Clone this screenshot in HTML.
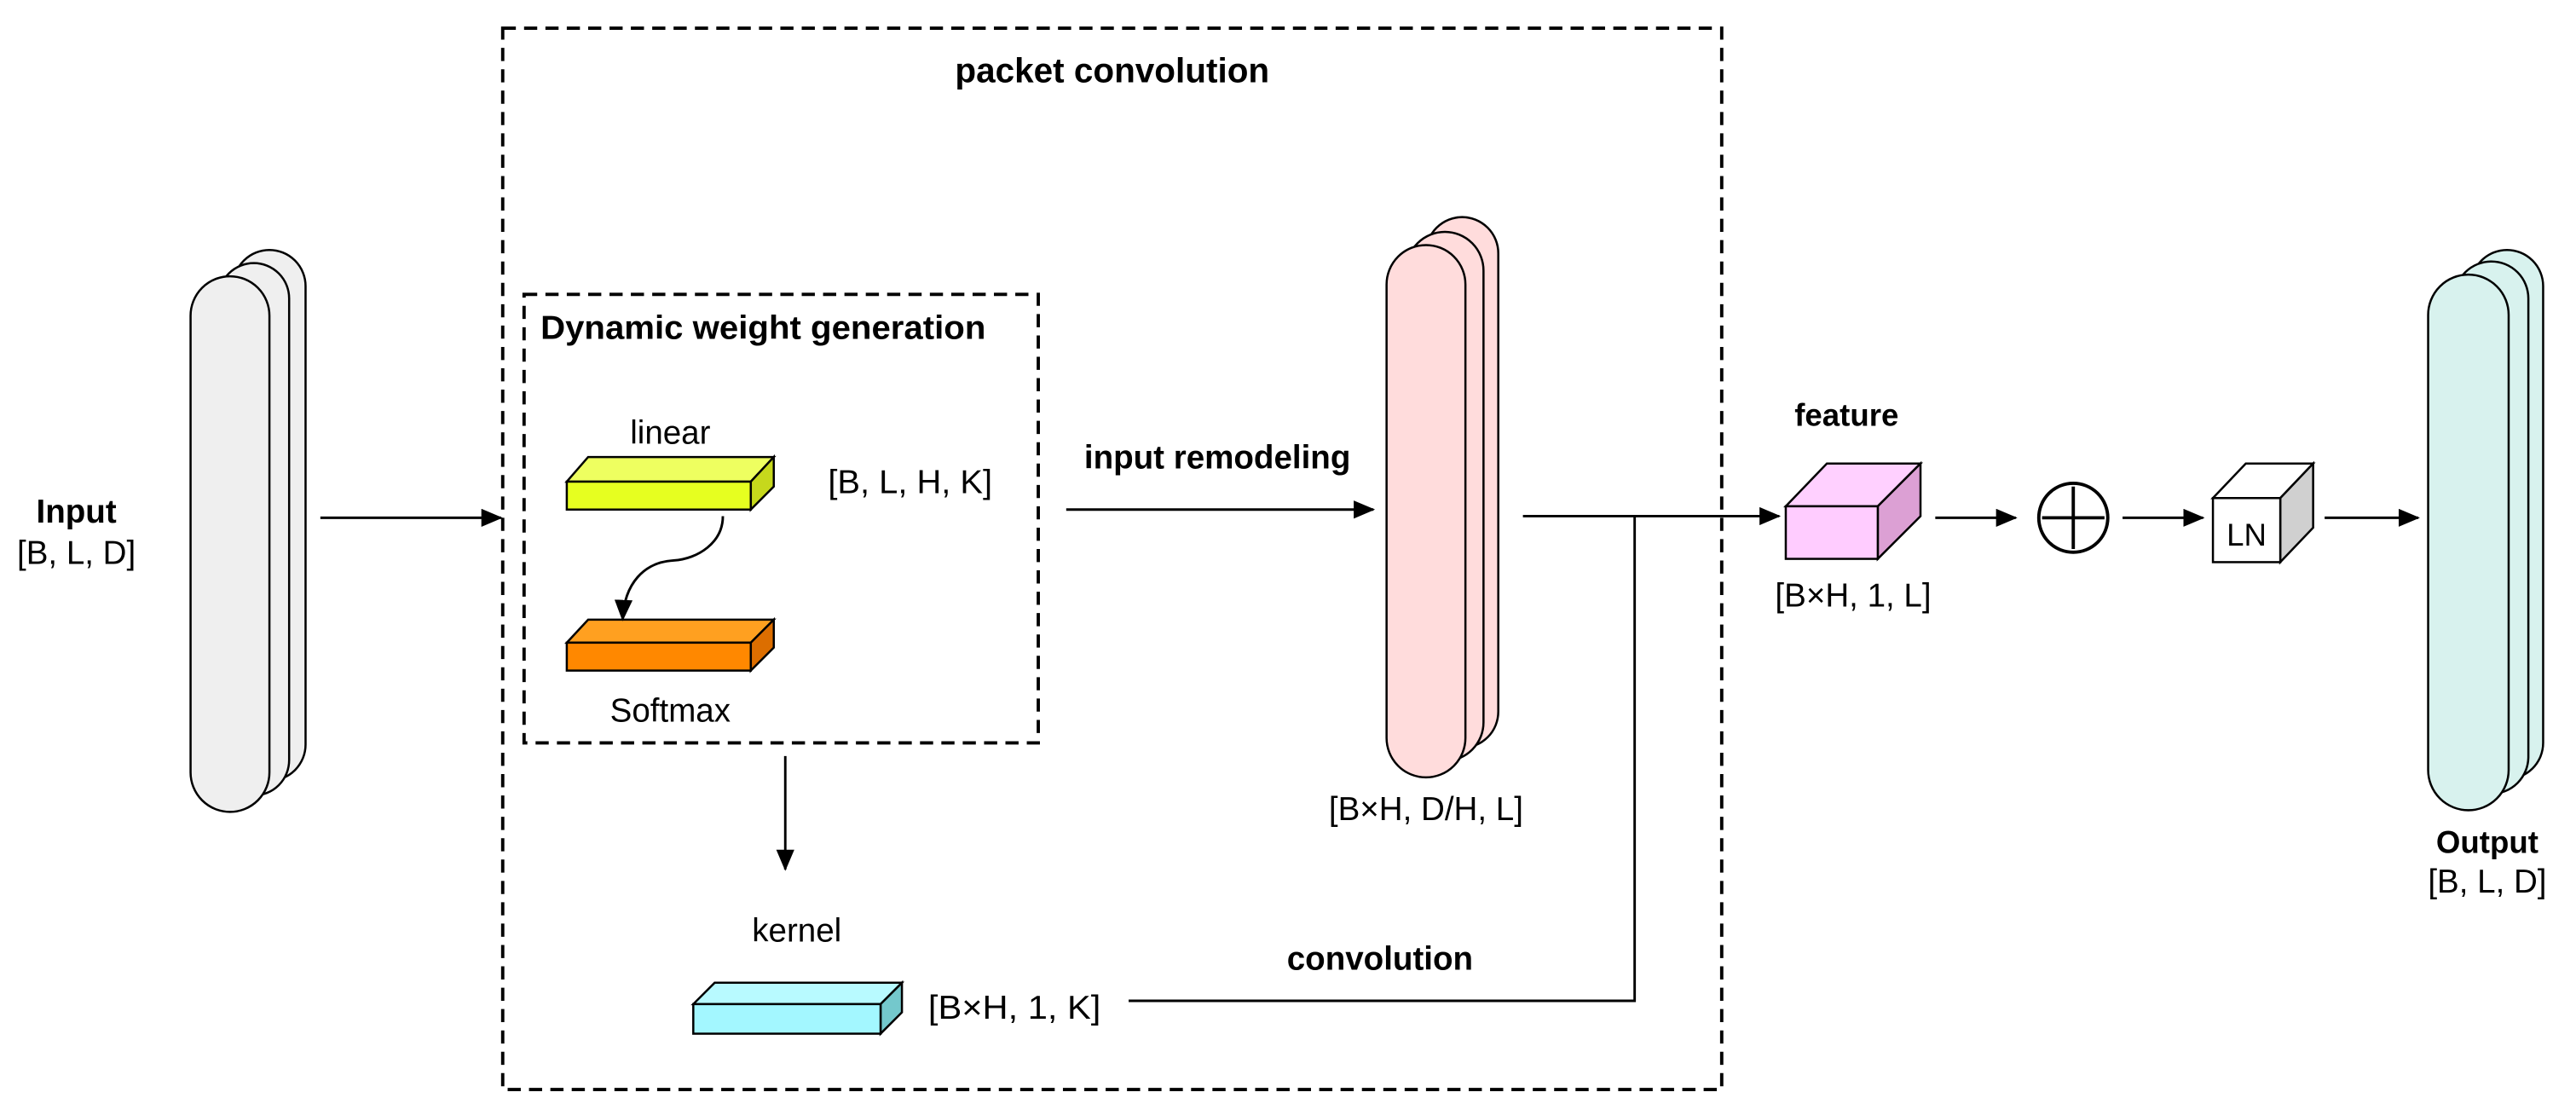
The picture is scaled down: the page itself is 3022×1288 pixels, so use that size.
<!DOCTYPE html>
<html><head><meta charset="utf-8"><style>html,body{margin:0;padding:0;background:#fff}svg{display:block}</style></head><body>
<svg width="3022" height="1288" viewBox="0 0 1568 668" xmlns="http://www.w3.org/2000/svg" font-family="Liberation Sans, Arial, sans-serif">
<defs><marker id="a" markerWidth="13" markerHeight="11" refX="12" refY="5.5" orient="auto" markerUnits="userSpaceOnUse"><path d="M0,0 L13,5.5 L0,11 Z" fill="#000"/></marker></defs>
<rect width="1568" height="668" fill="#fff"/>
<g fill="none" stroke="#000" stroke-width="2" stroke-dasharray="8,5">
<rect x="306" y="17" width="742" height="646"/>
<rect x="319" y="179" width="313" height="273"/>
</g>
<g font-weight="bold" font-size="20">
<text x="677" y="50" text-anchor="middle" font-size="21">packet convolution</text>
<text x="329" y="206" textLength="271" lengthAdjust="spacingAndGlyphs">Dynamic weight generation</text>
<text x="46.5" y="318" text-anchor="middle">Input</text>
<text x="741" y="285" text-anchor="middle">input remodeling</text>
<text x="840" y="590" text-anchor="middle">convolution</text>
<text x="1124" y="259" text-anchor="middle" font-size="19">feature</text>
<text x="1514" y="519" text-anchor="middle" font-size="19">Output</text>
</g>
<g font-size="20">
<text x="46.5" y="343" text-anchor="middle">[B, L, D]</text>
<text x="408" y="270" text-anchor="middle">linear</text>
<text x="504" y="300" textLength="100" lengthAdjust="spacingAndGlyphs">[B, L, H, K]</text>
<text x="408" y="439" text-anchor="middle">Softmax</text>
<text x="485" y="573" text-anchor="middle">kernel</text>
<text x="565" y="620" textLength="105" lengthAdjust="spacingAndGlyphs">[B×H, 1, K]</text>
<text x="868" y="499" text-anchor="middle">[B×H, D/H, L]</text>
<text x="1128" y="369" text-anchor="middle">[B×H, 1, L]</text>
<text x="1514" y="543" text-anchor="middle">[B, L, D]</text>
</g>
<g stroke="#000" stroke-width="1.3">
<rect x="142" y="152" width="44" height="323" rx="22" fill="#efefef"/>
<rect x="133" y="160" width="43" height="324" rx="21.5" fill="#efefef"/>
<rect x="116" y="168" width="48" height="326" rx="24" fill="#efefef"/>
<rect x="868" y="132" width="44" height="323" rx="22" fill="#ffdcdc"/>
<rect x="856" y="141" width="47" height="322" rx="23.5" fill="#ffdcdc"/>
<rect x="844" y="149" width="48" height="324" rx="24" fill="#ffdcdc"/>
<rect x="1504" y="152" width="44" height="322" rx="22" fill="#d8f2ee"/>
<rect x="1494" y="159" width="45" height="324" rx="22.5" fill="#d8f2ee"/>
<rect x="1478" y="167" width="49" height="326" rx="24.5" fill="#d8f2ee"/>
</g>
<g stroke="#000" stroke-width="1.3" stroke-linejoin="miter">
<polygon points="345,293 358,278 471,278 457,293" fill="#eeff60"/>
<polygon points="457,293 471,278 471,296 457,310" fill="#c6d81c"/>
<rect x="345" y="293" width="112" height="17" fill="#e6ff20"/>
<polygon points="345,391 358,377 471,377 457,391" fill="#ffa020"/>
<polygon points="457,391 471,377 471,394 457,408" fill="#dc6e00"/>
<rect x="345" y="391" width="112" height="17" fill="#ff8800"/>
<polygon points="422,611 435,598 549,598 536,611" fill="#b8faff"/>
<polygon points="536,611 549,598 549,616 536,629" fill="#74c8cc"/>
<rect x="422" y="611" width="114" height="18" fill="#a3f7ff"/>
<polygon points="1087,308 1112,282 1169,282 1143,308" fill="#ffd0ff"/>
<polygon points="1143,308 1169,282 1169,314 1143,340" fill="#dca0d4"/>
<rect x="1087" y="308" width="56" height="32" fill="#ffccff"/>
<polygon points="1347,303 1367,282 1408,282 1388,303" fill="#fff"/>
<polygon points="1388,303 1408,282 1408,321 1388,342" fill="#d0d0d0"/>
<rect x="1347" y="303" width="41" height="39" fill="#fff"/>
</g>
<text x="1367.5" y="332" font-size="19" text-anchor="middle">LN</text>
<g stroke="#000" stroke-width="1.5" fill="none">
<line x1="195" y1="315" x2="305" y2="315" marker-end="url(#a)"/>
<line x1="649" y1="310" x2="836" y2="310" marker-end="url(#a)"/>
<line x1="478" y1="460" x2="478" y2="529" marker-end="url(#a)"/>
<path d="M440,314 C440,330 425,340 410,341 C392,342 380,355 379,377" marker-end="url(#a)"/>
<line x1="927" y1="314" x2="1083" y2="314" marker-end="url(#a)"/>
<polyline points="687,609 995,609 995,314"/>
<line x1="1178" y1="315" x2="1227" y2="315" marker-end="url(#a)"/>
<line x1="1292" y1="315" x2="1341" y2="315" marker-end="url(#a)"/>
<line x1="1415" y1="315" x2="1472" y2="315" marker-end="url(#a)"/>
<circle cx="1262" cy="315" r="21" stroke-width="2"/>
<line x1="1243" y1="315" x2="1281" y2="315" stroke-width="2"/>
<line x1="1262" y1="296" x2="1262" y2="334" stroke-width="2"/>
</g>
</svg>
</body></html>
